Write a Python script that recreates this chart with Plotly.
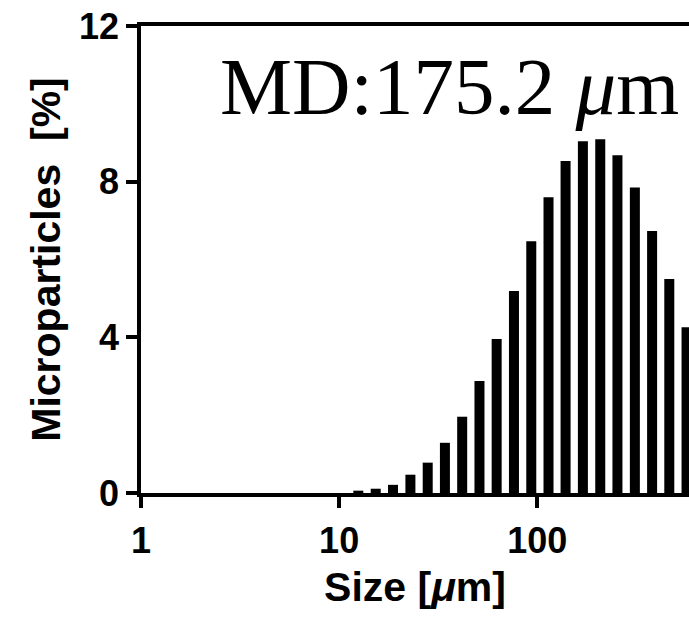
import plotly.graph_objects as go

# Bin centres (µm) and percentage of microparticles in each bin
sizes = [12.5, 15.3, 18.7, 22.9, 28.0, 34.2, 41.8, 51.1, 62.4, 76.3,
         93.3, 114, 139, 170, 208, 254, 311, 380, 464, 567]
percent = [0.06, 0.11, 0.21, 0.47, 0.78, 1.29, 1.96, 2.88, 3.96, 5.19,
           6.47, 7.60, 8.53, 9.04, 9.09, 8.68, 7.85, 6.73, 5.50, 4.26]

x_tickvals = [1, 10, 100]
x_ticktext = ["1", "10", "100"]
y_tickvals = [0, 4, 8, 12]

W, H = 689, 618
L, T, B = 140.7, 25.7, 124.7

# bar width: constant width in log space (half-width in decades)
h = 0.02525
offsets = [c * 10 ** (-h) - c for c in sizes]
widths = [c * (10 ** h - 10 ** (-h)) for c in sizes]

fig = go.Figure()
fig.add_trace(go.Bar(
    x=sizes, y=percent,
    width=widths, offset=offsets,
    marker=dict(color="black", line=dict(width=0)),
    showlegend=False,
))

tickfont = dict(family="Liberation Sans, Arial, sans-serif", size=36, color="black", weight="bold")
titlefont = dict(family="Liberation Sans, Arial, sans-serif", size=41, color="black", weight="bold")

fig.update_layout(
    width=W, height=H,
    margin=dict(l=L, r=0, t=T, b=B, pad=0),
    paper_bgcolor="white", plot_bgcolor="white",
    xaxis=dict(
        type="log", range=[0, 2.766], automargin=False,
        tickvals=x_tickvals, ticktext=x_ticktext,
        ticks="outside", ticklen=11, tickwidth=3.5, tickcolor="black",
        ticklabelstandoff=2, ticklabeloverflow="allow",
        showline=True, linewidth=3.5, linecolor="black", mirror=True,
        showgrid=False, zeroline=False,
        tickfont=tickfont,
        title=dict(text="Size [<i>μ</i>m]", font=titlefont, standoff=13),
    ),
    yaxis=dict(
        range=[0, 12], automargin=False,
        tickvals=y_tickvals,
        ticks="outside", ticklen=11, tickwidth=3.5, tickcolor="black",
        ticklabeloverflow="allow",
        showline=True, linewidth=3.5, linecolor="black",
        showgrid=False, zeroline=False,
        tickfont=tickfont,
        title=dict(text="Microparticles  [%]", font=titlefont, standoff=7),
    ),
    font=dict(family="Liberation Sans, Arial, sans-serif", color="black"),
)

PW, PH = W - L, H - T - B
fig.add_annotation(
    text="MD:175.2 <i>μ</i>m",
    xref="paper", yref="paper",
    x=(217.7 - L) / PW, y=1 - (87 - T) / PH,
    xanchor="left", yanchor="middle",
    showarrow=False,
    font=dict(family="Liberation Serif, Times New Roman, serif", size=81, color="black"),
)

fig.write_html(
    "out.html",
    config={"displayModeBar": False},
    post_script="document.body.style.margin='0';document.body.style.overflow='hidden';",
)
